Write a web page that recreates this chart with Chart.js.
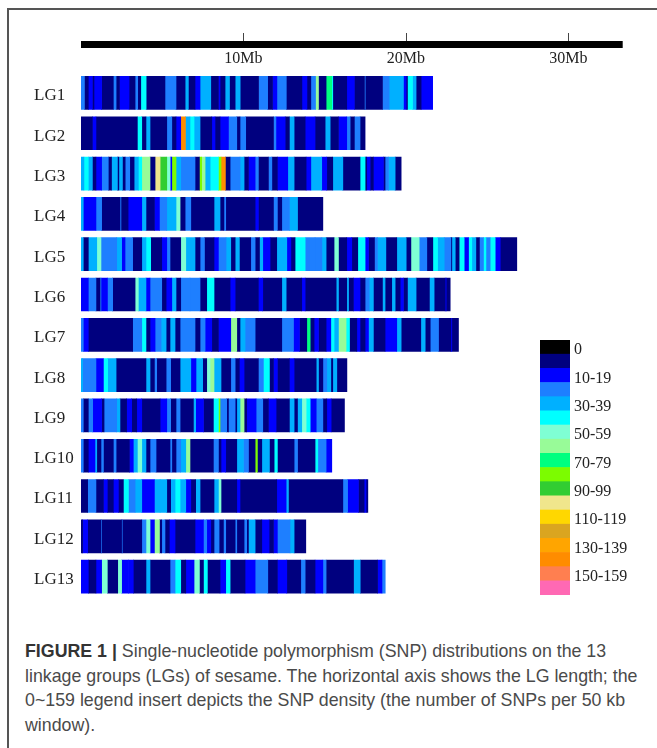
<!DOCTYPE html>
<html>
<head>
<meta charset="utf-8">
<style>
  html, body { margin: 0; padding: 0; background: #fff; }
  body { width: 657px; height: 748px; position: relative; overflow: hidden; }
  #frame { position: absolute; left: 7px; top: 8px; right: 0; bottom: 0; border-left: 2px solid #555; border-top: 2px solid #555; }
  #mapChart { position: absolute; left: 0; top: 0; filter: blur(0.4px); }
  #keyChart { position: absolute; left: 540px; top: 332px; filter: blur(0.4px); }
  #caption { position: absolute; left: 25px; top: 639px; margin: 0; white-space: nowrap; font: 17.8px/24.6px "Liberation Sans", sans-serif; color: #4a4a4a; }
  #caption b { color: #333; }
</style>
</head>
<body>
<div id="frame"></div>
<canvas id="mapChart" width="657" height="610"></canvas>
<canvas id="keyChart" width="110" height="271"></canvas>
<p id="caption"><b>FIGURE 1 |</b> Single-nucleotide polymorphism (SNP) distributions on the 13<br>linkage groups (LGs) of sesame. The horizontal axis shows the LG length; the<br>0~159 legend insert depicts the SNP density (the number of SNPs per 50 kb<br>window).</p>
<script src="https://cdn.jsdelivr.net/npm/chart.js@4"></script>
<script>
const groups = ['LG1', 'LG2', 'LG3', 'LG4', 'LG5', 'LG6', 'LG7', 'LG8', 'LG9', 'LG10', 'LG11', 'LG12', 'LG13'];
const axisTicks = [10, 20, 30];
const axisEnd = 33.35;

// legend bands, top to bottom (label only on every second band)
const bandLabels = ['0', '', '10-19', '', '30-39', '', '50-59', '', '70-79', '', '90-99', '', '110-119', '', '130-139', '', '150-159', ''];
const bandColors = ['#000000', '#00007f', '#0000ff', '#1e7fff', '#00b0ff', '#00ffff', '#7fffd4', '#98fb98', '#00ff7f', '#7cfc00', '#32cd32', '#f0e68c', '#ffd700', '#daa520', '#ffa500', '#ff8c00', '#ff7f50', '#ff69b4'];

// each run: [end of run in Mb, SNPs per window]
const lg1 = [[.21,25],[.45,5],[.70,15],[.80,5],[1.27,15],[1.99,5],[2.16,25],[2.37,5],[2.96,15],[3.33,5],[3.49,25],[3.68,5],[4.01,45],[5.17,5],[5.85,25],[6.41,5],[6.61,35],[7.02,5],[7.33,15],[7.99,35],[8.46,5],[8.56,15],[8.87,5],[9.14,35],[9.49,5],[9.80,35],[10.93,5],[11.49,25],[11.79,5],[12.06,15],[12.64,25],[13.60,5],[13.91,15],[14.15,5],[14.44,25],[14.62,65],[15.09,5],[15.44,75],[15.50,45],[16.36,5],[16.83,15],[17.45,5],[17.50,25],[18.56,5],[18.97,25],[19.85,35],[20.02,15],[20.10,5],[20.41,45],[20.63,35],[20.94,5],[21.65,15]];
const lg2 = [[.70,5],[.92,15],[3.47,5],[3.74,45],[4.00,5],[4.25,35],[5.28,5],[5.59,25],[5.85,5],[6.14,15],[6.43,145],[6.71,35],[6.96,45],[7.33,35],[8.05,5],[8.25,15],[8.56,5],[9.08,15],[9.59,25],[9.79,5],[10.14,25],[11.85,5],[12.00,25],[12.57,15],[12.83,5],[13.12,35],[13.80,5],[14.41,15],[15.03,5],[15.34,35],[15.85,5],[16.36,15],[16.57,25],[16.83,5],[17.18,25],[17.49,5]];
const lg3 = [[.18,35],[.45,45],[.70,35],[.92,5],[1.27,15],[1.68,25],[1.88,5],[2.24,35],[2.33,5],[2.55,35],[2.72,5],[3.00,25],[3.27,5],[3.53,35],[3.74,45],[4.25,65],[4.56,5],[4.87,105],[5.28,95],[5.49,55],[5.59,15],[5.85,85],[6.14,35],[7.02,25],[7.29,5],[7.43,85],[7.64,65],[7.95,35],[8.46,45],[8.62,85],[8.89,145],[9.18,5],[9.79,25],[10.04,35],[10.31,5],[10.72,15],[10.92,25],[11.54,5],[11.75,25],[12.09,5],[12.73,15],[13.12,35],[13.86,5],[14.15,15],[14.82,35],[15.13,15],[15.50,5],[16.12,35],[17.18,5],[17.49,45],[17.59,5],[17.80,15],[18.00,5],[18.62,15],[18.72,5],[18.93,25],[19.34,35],[19.71,5]];
const lg4 = [[.14,35],[.92,15],[1.27,25],[2.40,5],[2.46,25],[2.90,5],[3.74,15],[4.00,35],[4.52,5],[4.83,15],[5.28,25],[5.85,35],[6.10,55],[6.41,5],[6.76,25],[8.19,5],[8.56,35],[8.80,5],[8.91,25],[10.72,5],[10.92,15],[11.85,5],[12.09,25],[12.36,5],[12.83,25],[13.33,35],[14.89,5]];
const lg5 = [[.14,35],[.45,5],[.97,35],[1.23,55],[2.20,25],[2.50,35],[2.71,15],[3.18,25],[3.74,5],[4.00,35],[4.29,45],[4.97,5],[5.28,15],[5.48,25],[6.14,5],[6.45,55],[7.02,35],[7.33,5],[7.60,25],[8.19,5],[8.46,15],[8.93,25],[9.22,35],[9.49,5],[9.75,35],[10.45,5],[10.72,25],[10.99,5],[11.19,35],[11.64,15],[12.05,5],[12.67,35],[12.92,15],[13.18,5],[13.80,45],[14.41,25],[14.83,25],[15.09,35],[15.58,5],[15.85,55],[16.36,5],[16.67,15],[17.04,5],[17.49,45],[17.70,15],[18.07,5],[18.25,25],[18.77,35],[19.44,5],[20.02,35],[20.31,5],[20.82,55],[21.29,25],[21.66,5],[21.95,45],[22.36,35],[22.77,25],[22.83,5],[23.04,35],[23.28,5],[23.59,45],[23.86,15],[24.06,45],[24.31,35],[24.53,5],[24.78,25],[24.93,45],[25.19,25],[25.50,45],[25.81,15],[26.83,5]];
const lg6 = [[.45,15],[.92,25],[1.17,5],[1.23,25],[1.63,15],[1.95,25],[3.33,5],[3.53,55],[4.00,35],[4.25,15],[4.97,25],[5.24,5],[5.59,15],[5.85,35],[6.14,5],[6.71,25],[7.33,25],[7.74,5],[8.19,45],[9.18,5],[9.49,15],[10.92,5],[11.19,15],[12.36,5],[12.63,35],[13.59,5],[13.80,15],[15.71,5],[15.85,35],[16.36,5],[16.47,35],[16.77,5],[17.18,15],[17.49,5],[17.74,25],[18.00,35],[18.56,5],[18.72,35],[19.13,5],[19.34,35],[19.65,5],[19.85,15],[20.10,5],[20.63,35],[21.45,5],[21.74,35],[22.42,5],[22.48,15],[22.73,5]];
const lg7 = [[.14,25],[.45,15],[3.18,5],[3.74,25],[4.00,45],[4.25,5],[4.56,15],[4.93,25],[5.24,35],[5.48,5],[5.79,35],[6.10,5],[7.02,25],[7.33,5],[7.64,25],[8.05,15],[8.46,5],[9.22,15],[9.59,65],[9.79,5],[10.10,35],[10.72,25],[12.36,5],[13.08,25],[13.45,15],[13.90,5],[14.11,75],[14.35,5],[14.62,15],[15.09,5],[15.38,15],[15.58,45],[15.85,35],[16.32,65],[16.53,45],[16.98,5],[17.18,15],[17.49,5],[17.70,15],[18.00,35],[18.72,5],[19.44,15],[19.71,35],[20.92,5],[21.19,35],[21.50,5],[22.01,25],[22.77,5],[22.83,15],[23.24,5]];
const lg8 = [[.10,35],[.92,25],[1.38,15],[1.64,45],[2.16,35],[4.00,5],[4.25,35],[4.52,5],[4.66,25],[5.24,5],[5.52,25],[6.10,5],[6.76,35],[7.08,15],[7.49,35],[7.74,5],[7.95,55],[8.19,65],[8.62,35],[9.22,5],[9.49,25],[9.75,5],[10.04,15],[10.92,5],[11.23,25],[11.60,45],[11.85,5],[12.09,15],[12.83,5],[13.12,15],[14.48,5],[14.62,35],[14.89,5],[15.13,25],[15.38,35],[15.50,5],[15.75,35],[16.37,5]];
const lg9 = [[.14,25],[.45,5],[.72,25],[1.27,15],[1.42,5],[2.20,25],[2.40,35],[2.81,5],[3.12,15],[3.43,5],[3.74,15],[4.87,5],[5.28,15],[5.52,25],[5.85,5],[6.10,25],[6.92,5],[7.06,35],[7.54,15],[8.15,5],[8.46,45],[8.56,85],[8.97,25],[9.08,5],[9.49,25],[9.59,5],[9.79,35],[10.04,65],[10.20,5],[10.78,15],[11.19,25],[11.54,5],[12.01,15],[12.83,5],[13.12,35],[13.33,5],[13.59,35],[13.86,55],[14.11,45],[14.48,15],[14.89,25],[15.13,5],[15.40,15],[16.22,5]];
const lg10 = [[.14,25],[.45,5],[.86,15],[.97,35],[1.23,5],[1.38,25],[1.99,5],[2.16,25],[2.98,5],[3.22,15],[3.47,35],[3.74,55],[4.00,35],[4.25,5],[4.62,25],[5.48,5],[5.59,25],[5.85,5],[6.14,25],[6.45,35],[6.71,65],[8.15,5],[8.46,25],[8.62,5],[8.91,15],[9.59,5],[10.00,35],[10.31,25],[10.72,5],[10.86,85],[11.13,5],[11.60,35],[11.89,5],[12.09,45],[13.12,5],[13.33,25],[14.41,5],[14.58,45],[15.09,25],[15.44,15]];
const lg11 = [[.41,5],[.92,25],[1.38,5],[1.62,15],[1.99,5],[2.30,15],[2.61,5],[2.92,45],[3.33,25],[3.74,35],[4.52,15],[4.87,35],[5.28,35],[5.52,5],[5.79,35],[6.10,45],[6.45,35],[6.76,15],[7.06,5],[7.33,35],[8.19,5],[8.46,35],[8.62,55],[9.59,5],[9.79,15],[12.05,5],[12.63,15],[12.77,35],[16.12,5],[16.41,25],[17.08,15],[17.43,5],[17.55,15],[17.66,5]];
const lg12 = [[.10,5],[.41,15],[1.23,5],[1.27,25],[2.50,5],[2.54,25],[3.74,5],[4.00,25],[4.25,55],[4.52,15],[4.83,65],[4.97,5],[5.17,25],[5.44,5],[5.79,15],[7.02,5],[7.54,15],[7.74,25],[7.99,15],[8.19,5],[8.50,25],[8.77,5],[8.91,25],[9.49,5],[9.59,25],[10.04,5],[10.20,25],[10.31,5],[10.72,35],[11.13,5],[11.58,15],[11.85,5],[12.09,15],[12.87,25],[13.12,35],[13.84,5]];
const lg13 = [[.45,15],[.92,5],[1.27,15],[1.62,55],[2.26,5],[2.50,55],[2.92,15],[3.22,15],[4.00,5],[4.25,35],[5.48,5],[5.79,25],[6.14,45],[6.45,5],[6.96,15],[7.29,55],[7.54,5],[7.78,45],[8.56,5],[8.91,15],[9.18,45],[10.10,5],[10.72,15],[11.50,25],[12.09,5],[12.67,15],[13.53,5],[13.80,25],[14.41,5],[14.89,15],[15.09,25],[16.78,5],[17.19,35],[18.26,5],[18.53,15],[18.73,25]];

const runs = [lg1, lg2, lg3, lg4, lg5, lg6, lg7, lg8, lg9, lg10, lg11, lg12, lg13];

function densityColor(n) {
  if (n === 0) return bandColors[0];
  return bandColors[Math.min(Math.floor(n / 10) + 1, bandColors.length - 1)];
}

// one stacked dataset per run position
const maxRuns = Math.max(...runs.map(r => r.length));
const datasets = [];
for (let j = 0; j < maxRuns; j++) {
  datasets.push({
    data: runs.map(r => (r[j] ? r[j][0] - (j > 0 ? r[j - 1][0] : 0) : null)),
    backgroundColor: runs.map(r => (r[j] ? densityColor(r[j][1]) : 'transparent')),
    borderWidth: 0,
    barThickness: 33
  });
}

// black ruler with tick marks above the strips
const rulerPlugin = {
  id: 'ruler',
  afterDraw(chart) {
    const c = chart.ctx;
    const x = chart.scales.x;
    c.save();
    c.fillStyle = '#000';
    c.fillRect(x.getPixelForValue(0), 41, x.getPixelForValue(axisEnd) - x.getPixelForValue(0), 7);
    c.strokeStyle = '#444';
    c.lineWidth = 1;
    axisTicks.forEach(t => {
      const px = Math.round(x.getPixelForValue(t)) + 0.5;
      c.beginPath();
      c.moveTo(px, 33);
      c.lineTo(px, 41);
      c.stroke();
    });
    c.restore();
  }
};

new Chart(document.getElementById('mapChart'), {
  type: 'bar',
  data: { labels: groups, datasets: datasets },
  options: {
    indexAxis: 'y',
    responsive: false,
    animation: false,
    layout: { padding: { left: 34, right: 34.3, top: 0, bottom: 11.8 } },
    plugins: { legend: { display: false }, tooltip: { enabled: false } },
    scales: {
      x: {
        position: 'top',
        stacked: true,
        min: 0,
        max: axisEnd,
        grid: { display: false, drawTicks: false },
        border: { display: false },
        afterBuildTicks: s => { s.ticks = axisTicks.map(v => ({ value: v })); },
        afterFit: s => { s.height = 72.8; },
        ticks: {
          autoSkip: false,
          maxRotation: 0,
          padding: 4,
          color: '#222',
          font: { family: 'Liberation Serif', size: 16 },
          callback: v => v + 'Mb'
        }
      },
      y: {
        stacked: true,
        grid: { display: false, drawTicks: false },
        border: { display: false },
        afterFit: s => { s.width = 47; },
        ticks: {
          autoSkip: false,
          crossAlign: 'far',
          labelOffset: 3,
          color: '#222',
          font: { family: 'Liberation Serif', size: 17 }
        }
      }
    }
  },
  plugins: [rulerPlugin]
});

// colour key
new Chart(document.getElementById('keyChart'), {
  type: 'bar',
  data: {
    labels: bandLabels,
    datasets: [{
      data: bandLabels.map(() => 1),
      backgroundColor: bandColors,
      borderWidth: 0,
      barPercentage: 1,
      categoryPercentage: 1
    }]
  },
  options: {
    indexAxis: 'y',
    responsive: false,
    animation: false,
    layout: { padding: { left: 0, right: 0, top: 8, bottom: 8 } },
    plugins: { legend: { display: false }, tooltip: { enabled: false } },
    scales: {
      x: { display: false, min: 0, max: 1 },
      y: {
        position: 'right',
        grid: { display: false, drawTicks: false },
        border: { display: false },
        afterFit: s => { s.width = 80; s.paddingTop = 0; s.paddingBottom = 0; },
        ticks: {
          autoSkip: false,
          padding: 4,
          labelOffset: 3,
          color: '#222',
          font: { family: 'Liberation Serif', size: 16 }
        }
      }
    }
  }
});
</script>
</body>
</html>
